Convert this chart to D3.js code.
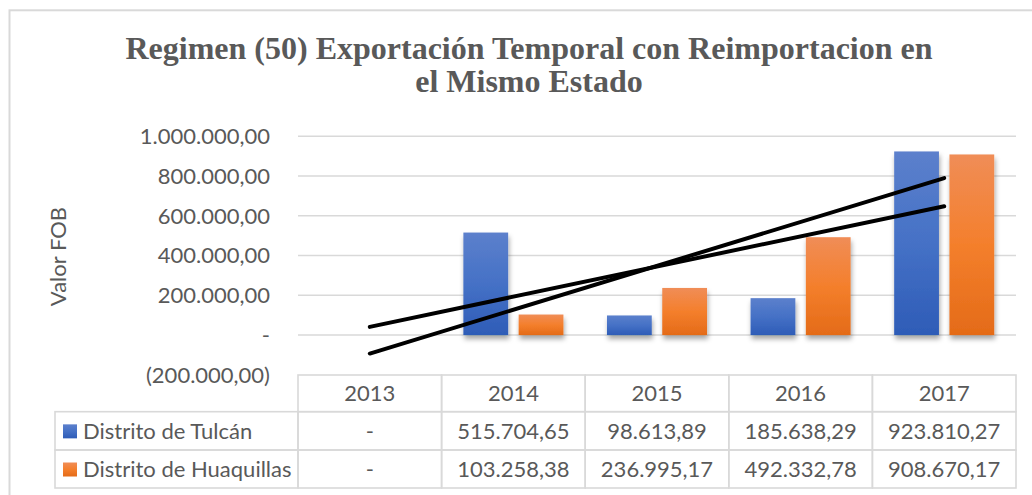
<!DOCTYPE html>
<html><head><meta charset="utf-8">
<script src="https://cdn.jsdelivr.net/npm/d3@7"></script>
<style>body{margin:0;background:#fff;} svg{display:block}</style>
</head><body><svg id="c" width="1032" height="495"></svg>
<script>
// ---- data ----
const categories = ["2013", "2014", "2015", "2016", "2017"];
const seriesNames = ["Distrito de Tulcán", "Distrito de Huaquillas"];
const tulcan = [0, 515704.65, 98613.89, 185638.29, 923810.27];
const huaquillas = [0, 103258.38, 236995.17, 492332.78, 908670.17];
const yTickValues = [-200000, 0, 200000, 400000, 600000, 800000, 1000000];
const yTickLabels = ["(200.000,00)", "-", "200.000,00", "400.000,00", "600.000,00", "800.000,00", "1.000.000,00"];
const titleLines = ["Regimen (50) Exportación Temporal con Reimportacion en", "el Mismo Estado"];
const yAxisTitle = "Valor FOB";

const seriesValues = [tulcan, huaquillas];
const gradIds = ["gBlue", "gOrange"];

// ---- layout ----
const plotL = 298, plotR = 1016, plotT = 136.3, plotB = 374.8;
const rowH = [375, 411.7, 450, 488];
const legendL = 55;
const textCol = "#595959", gridCol = "#d9d9d9";
const sansFont = "Lato, 'Open Sans', sans-serif";
const fs = 22;

const svg = d3.select("#c");
const defs = svg.append("defs");

function grad(id, stops) {
  const g = defs.append("linearGradient").attr("id", id).attr("x1", 0).attr("y1", 0).attr("x2", 0).attr("y2", 1);
  stops.forEach(s => g.append("stop").attr("offset", s[0]).attr("stop-color", s[1]));
}
grad("gBlue", [[0, "#5c80cc"], [0.5, "#4571c6"], [1, "#2e5cb7"]]);
grad("gOrange", [[0, "#f08d57"], [0.5, "#f47f2c"], [1, "#e46b18"]]);
const f = defs.append("filter").attr("id", "shadow").attr("x", "-20%").attr("y", "-10%").attr("width", "140%").attr("height", "130%");
f.append("feDropShadow").attr("dx", 1).attr("dy", 4).attr("stdDeviation", 2.5).attr("flood-color", "#000").attr("flood-opacity", 0.35);

svg.append("rect").attr("width", 1032).attr("height", 495).attr("fill", "#fff");
svg.append("rect").attr("x", 9.5).attr("y", 10.3).attr("width", 1200).attr("height", 700)
  .attr("fill", "none").attr("stroke", gridCol).attr("stroke-width", 2);

// title
svg.append("g").selectAll("text").data(titleLines).join("text")
  .attr("x", 529).attr("y", (d, i) => 59 + i * 33)
  .attr("text-anchor", "middle")
  .attr("font-family", "'Liberation Serif', 'Times New Roman', serif")
  .attr("font-weight", "bold").attr("font-size", 32).attr("fill", textCol)
  .text(d => d);

// scales
const x = d3.scaleBand().domain(categories).range([plotL, plotR]).paddingInner(0).paddingOuter(0);
const xs = d3.scaleBand().domain(seriesNames).range([0, x.bandwidth()]).paddingInner(0.19).paddingOuter(0.394);
const y = d3.scaleLinear().domain([-200000, 1000000]).range([plotB, plotT]);

// gridlines
svg.append("g").selectAll("line").data(yTickValues.filter(v => v > -200000)).join("line")
  .attr("x1", plotL).attr("x2", plotR).attr("y1", d => y(d)).attr("y2", d => y(d))
  .attr("stroke", gridCol).attr("stroke-width", 1.6);

// y tick labels
svg.append("g").selectAll("text").data(yTickValues).join("text")
  .attr("x", 270).attr("y", d => y(d)).attr("dy", "0.36em")
  .attr("text-anchor", "end").attr("font-family", sansFont).attr("font-size", fs).attr("fill", textCol)
  .text((d, i) => yTickLabels[i]);

// y axis title
svg.append("text").attr("transform", `translate(66,${(plotT + plotB) / 2 + 1}) rotate(-90)`)
  .attr("text-anchor", "middle").attr("font-family", sansFont).attr("font-size", fs).attr("fill", textCol)
  .text(yAxisTitle);

// bars
seriesNames.forEach((s, si) => {
  svg.append("g").attr("filter", "url(#shadow)").selectAll("rect").data(seriesValues[si]).join("rect")
    .attr("x", (d, i) => x(categories[i]) + xs(s))
    .attr("width", xs.bandwidth())
    .attr("y", d => y(Math.max(0, d)))
    .attr("height", d => Math.abs(y(d) - y(0)))
    .attr("fill", `url(#${gradIds[si]})`);
});

// linear trendlines
seriesValues.forEach(vals => {
  const n = vals.length;
  const xsI = d3.range(1, n + 1);
  const mx = d3.mean(xsI), my = d3.mean(vals);
  const slope = d3.sum(xsI, (xi, i) => (xi - mx) * (vals[i] - my)) / d3.sum(xsI, xi => (xi - mx) ** 2);
  const icpt = my - slope * mx;
  const pts = [[categories[0], icpt + slope * 1], [categories[n - 1], icpt + slope * n]];
  svg.append("path")
    .attr("d", d3.line().x(p => x(p[0]) + x.bandwidth() / 2).y(p => y(p[1]))(pts))
    .attr("stroke", "#000").attr("stroke-width", 4).attr("stroke-linecap", "round").attr("fill", "none");
});

// data table
const fl = d3.formatLocale({decimal: ",", thousands: ".", grouping: [3], currency: ["", ""]});
const fmt = v => v === 0 ? "-" : fl.format(",.2f")(v);
const tg = svg.append("g");
tg.selectAll("rect.h").data(categories).join("rect").attr("class", "h")
  .attr("x", d => x(d)).attr("y", rowH[0]).attr("width", x.bandwidth()).attr("height", rowH[1] - rowH[0])
  .attr("fill", "none").attr("stroke", gridCol).attr("stroke-width", 1.6);
tg.selectAll("text.h").data(categories).join("text").attr("class", "h")
  .attr("x", d => x(d) + x.bandwidth() / 2).attr("y", (rowH[0] + rowH[1]) / 2).attr("dy", "0.36em")
  .attr("text-anchor", "middle").attr("font-family", sansFont).attr("font-size", fs).attr("fill", textCol)
  .text(d => d);
seriesNames.forEach((s, si) => {
  const y0 = rowH[si + 1], y1 = rowH[si + 2], cy = (y0 + y1) / 2;
  tg.append("rect").attr("x", legendL).attr("y", y0).attr("width", plotL - legendL).attr("height", y1 - y0)
    .attr("fill", "none").attr("stroke", gridCol).attr("stroke-width", 1.6);
  tg.append("rect").attr("x", 63).attr("y", cy - 6.5).attr("width", 14).attr("height", 14)
    .attr("fill", `url(#${gradIds[si]})`);
  tg.append("text").attr("x", 83).attr("y", cy).attr("dy", "0.36em")
    .attr("font-family", sansFont).attr("font-size", fs).attr("fill", textCol).text(s);
  tg.selectAll(null).data(seriesValues[si]).join("rect")
    .attr("x", (d, i) => x(categories[i])).attr("y", y0).attr("width", x.bandwidth()).attr("height", y1 - y0)
    .attr("fill", "none").attr("stroke", gridCol).attr("stroke-width", 1.6);
  tg.selectAll(null).data(seriesValues[si]).join("text")
    .attr("x", (d, i) => x(categories[i]) + x.bandwidth() / 2).attr("y", cy).attr("dy", "0.36em")
    .attr("text-anchor", "middle").attr("font-family", sansFont).attr("font-size", fs).attr("fill", textCol)
    .text(d => fmt(d));
});
</script>
</body></html>
